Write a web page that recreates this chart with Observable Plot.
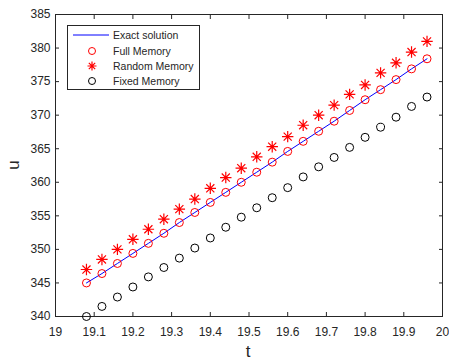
<!DOCTYPE html>
<html><head><meta charset="utf-8">
<script src="https://cdn.jsdelivr.net/npm/d3@7"></script>
<script src="https://cdn.jsdelivr.net/npm/@observablehq/plot@0.6"></script>
<style>body{margin:0;background:#fff;} svg{font-family:"Liberation Sans",Arial,sans-serif;}</style>
</head><body><div id="chart"></div>
<script>
const t = [19.08,19.12,19.16,19.20,19.24,19.28,19.32,19.36,19.40,19.44,19.48,19.52,19.56,19.60,19.64,19.68,19.72,19.76,19.80,19.84,19.88,19.92,19.96];
const exactU = [345.0,346.4,347.9,349.4,350.9,352.4,354.0,355.5,357.0,358.5,360.0,361.5,363.0,364.6,366.1,367.6,369.1,370.7,372.3,373.8,375.3,376.9,378.4];
const fullU = [345.0,346.4,347.9,349.4,350.9,352.4,354.0,355.5,357.0,358.5,360.0,361.5,363.0,364.6,366.1,367.6,369.1,370.7,372.3,373.8,375.3,376.9,378.4];
const randomU = [347.0,348.5,350.0,351.5,353.0,354.5,356.0,357.5,359.1,360.7,362.1,363.8,365.3,366.8,368.5,370.0,371.5,373.1,374.5,376.3,377.8,379.4,381.0];
const fixedU = [340.0,341.5,342.9,344.4,345.9,347.3,348.7,350.2,351.7,353.3,354.8,356.2,357.7,359.2,360.8,362.3,363.7,365.2,366.7,368.2,369.7,371.3,372.7];
const xTicks = [19,19.1,19.2,19.3,19.4,19.5,19.6,19.7,19.8,19.9,20];
const yTicks = [340,345,350,355,360,365,370,375,380,385];
const seriesNames = ["Exact solution","Full Memory","Random Memory","Fixed Memory"];

const mk = (u) => t.map((x,i)=>({t:x,u:u[i]}));
const axisColor = "#262626";
// MATLAB-style 8-arm asterisk
const star8 = {
  draw(ctx, size) {
    const r = Math.sqrt(size) * 0.75;
    const d = r * Math.SQRT1_2;
    ctx.moveTo(-r, 0); ctx.lineTo(r, 0);
    ctx.moveTo(0, -r); ctx.lineTo(0, r);
    ctx.moveTo(-d, -d); ctx.lineTo(d, d);
    ctx.moveTo(-d, d); ctx.lineTo(d, -d);
  }
};
const chart = Plot.plot({
  width: 449, height: 361,
  marginLeft: 55, marginRight: 7, marginTop: 14, marginBottom: 45,
  style: {fontFamily: "Liberation Sans, Arial, sans-serif", fontSize: "12px", color: axisColor, background: "#fff"},
  x: {domain: [19,20]},
  y: {domain: [340,385]},
  marks: [
    Plot.axisX(xTicks, {anchor:"bottom", tickSize:-4, tickFormat: d=>String(d), label:null, tickPadding:15, fontSize:12, stroke:axisColor}),
    Plot.axisX(xTicks, {anchor:"top", tickSize:-4, tickFormat: ()=>"", label:null, stroke:axisColor}),
    Plot.axisY(yTicks, {anchor:"left", tickSize:-4, tickFormat: d=>String(d), label:null, tickPadding:9, fontSize:12, stroke:axisColor}),
    Plot.axisY(yTicks, {anchor:"right", tickSize:-4, tickFormat: ()=>"", label:null, stroke:axisColor}),
    Plot.frame({stroke: axisColor, strokeWidth: 1}),
    Plot.line(mk(exactU), {x:"t", y:"u", stroke:"#0000ff", strokeWidth:1}),
    Plot.dot(mk(fullU), {x:"t", y:"u", r:4, stroke:"#ff0000", strokeWidth:1, fill:"none"}),
    Plot.dot(mk(randomU), {x:"t", y:"u", symbol:star8, r:4.3, stroke:"#ff0000", strokeWidth:1.2, fill:"none"}),
    Plot.dot(mk(fixedU), {x:"t", y:"u", r:4, stroke:"#000000", strokeWidth:1, fill:"none"})
  ]
});
document.getElementById("chart").appendChild(chart);

const svg = d3.select(chart);
// axis titles
svg.append("text").attr("x", 248).attr("y", 357).attr("text-anchor","middle")
  .attr("font-size", 17).attr("fill", axisColor).text("t");
svg.append("text").attr("transform","translate(19,165) rotate(-90)").attr("text-anchor","middle")
  .attr("font-size", 17).attr("fill", axisColor).text("u");

// legend
const lg = svg.append("g").attr("transform","translate(67,25)").attr("text-anchor","start");
lg.append("rect").attr("x",0.5).attr("y",0.5).attr("width",132).attr("height",64)
  .attr("fill","#ffffff").attr("stroke", axisColor).attr("stroke-width",1);
const rowY = [10,26,41,56];
lg.append("line").attr("x1",6).attr("x2",42).attr("y1",rowY[0]).attr("y2",rowY[0]).attr("stroke","#0000ff").attr("stroke-width",1);
lg.append("circle").attr("cx",25).attr("cy",rowY[1]).attr("r",3.5).attr("fill","none").attr("stroke","#ff0000");
lg.append("path").attr("transform",`translate(25,${rowY[2]})`).attr("d", d3.symbol(star8, 36)()).attr("fill","none").attr("stroke","#ff0000").attr("stroke-width",1.2);
lg.append("circle").attr("cx",25).attr("cy",rowY[3]).attr("r",3.5).attr("fill","none").attr("stroke","#000");
seriesNames.forEach((n,i)=>{
  lg.append("text").attr("x",46).attr("y",rowY[i]).attr("dy","0.35em").attr("text-anchor","start")
    .attr("font-size",10.5).attr("fill",axisColor).text(n);
});
</script></body></html>
